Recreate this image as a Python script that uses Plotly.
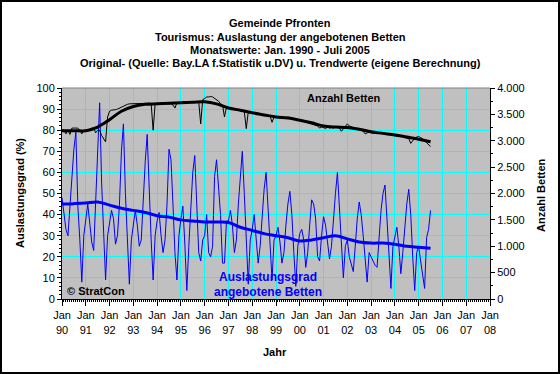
import plotly.graph_objects as go

# ---------------- data ----------------
years = list(range(1990, 2006))

# Auslastungsgrad (%) - monthly values, Jan 1990 .. Jul 2005
occ_1990 = [48, 39, 33, 30, 43, 58, 71, 79, 44, 28, 8, 30]
occ_1991 = [38, 45, 36, 27, 23, 45, 73, 93, 55, 28, 9, 30]
occ_1992 = [36, 42, 38, 26, 30, 45, 70, 83, 50, 25, 7, 28]
occ_1993 = [36, 42, 35, 25, 28, 48, 65, 78, 50, 28, 9, 30]
occ_1994 = [37, 41, 30, 22, 28, 45, 71, 66, 45, 22, 9, 30]
occ_1995 = [38, 44, 26, 4, 25, 45, 60, 68, 48, 22, 18, 28]
occ_1996 = [30, 40, 22, 20, 25, 58, 66, 51, 40, 17, 17, 37]
occ_1997 = [37, 42, 35, 22, 28, 45, 60, 70, 50, 25, 7, 28]
occ_1998 = [33, 40, 30, 17, 25, 40, 52, 60, 42, 25, 9, 28]
occ_1999 = [30, 34, 27, 17, 22, 35, 45, 51, 40, 22, 6, 25]
occ_2000 = [31, 33, 28, 15, 22, 35, 47, 45, 38, 20, 18, 30]
occ_2001 = [39, 35, 28, 19, 25, 40, 50, 60, 45, 25, 10, 25]
occ_2002 = [28, 20, 17, 13, 25, 38, 46, 40, 30, 20, 8, 22]
occ_2003 = [20, 18, 16, 15, 30, 42, 50, 54, 38, 20, 5, 25]
occ_2004 = [30, 34, 25, 12, 22, 35, 45, 52, 40, 20, 4, 22]
occ_2005 = [25, 18, 12, 5, 29, 33, 42]
occ_by_year = [occ_1990, occ_1991, occ_1992, occ_1993, occ_1994, occ_1995,
               occ_1996, occ_1997, occ_1998, occ_1999, occ_2000, occ_2001,
               occ_2002, occ_2003, occ_2004, occ_2005]

# Anzahl Betten - monthly values
beds_1990 = [3200, 3200, 3130, 3200, 3120, 3240, 3240, 3240, 3240, 3200, 3130, 3200]
beds_1991 = [3200, 3200, 3220, 3240, 3240, 3150, 3200, 3200, 3100, 3050, 2980, 3450]
beds_1992 = [3560, 3580, 3580, 3590, 3600, 3620, 3640, 3660, 3680, 3690, 3700, 3700]
beds_1993 = [3700, 3700, 3710, 3700, 3700, 3700, 3700, 3710, 3720, 3700, 3200, 3700]
beds_1994 = [3700, 3710, 3720, 3720, 3700, 3700, 3700, 3700, 3680, 3620, 3720, 3720]
beds_1995 = [3730, 3740, 3740, 3740, 3740, 3750, 3750, 3750, 3740, 3740, 3320, 3780]
beds_1996 = [3800, 3830, 3830, 3840, 3830, 3800, 3780, 3750, 3700, 3680, 3450, 3640]
beds_1997 = [3620, 3600, 3600, 3590, 3580, 3600, 3570, 3560, 3550, 3230, 3550, 3540]
beds_1998 = [3530, 3520, 3510, 3500, 3500, 3490, 3480, 3490, 3480, 3470, 3350, 3450]
beds_1999 = [3450, 3460, 3430, 3460, 3440, 3430, 3450, 3440, 3420, 3420, 3400, 3400]
beds_2000 = [3400, 3390, 3380, 3360, 3340, 3330, 3320, 3300, 3300, 3280, 3240, 3260]
beds_2001 = [3250, 3230, 3260, 3240, 3250, 3240, 3270, 3260, 3240, 3180, 3230, 3270]
beds_2002 = [3320, 3280, 3260, 3250, 3240, 3230, 3220, 3200, 3180, 3130, 3150, 3160]
beds_2003 = [3150, 3140, 3150, 3130, 3150, 3160, 3150, 3140, 3140, 3130, 3120, 3110]
beds_2004 = [3100, 3090, 3080, 3080, 3090, 3060, 3050, 3040, 2950, 3000, 3050, 3070]
beds_2005 = [3080, 3060, 3040, 3000, 2960, 2920, 2890]
beds_by_year = [beds_1990, beds_1991, beds_1992, beds_1993, beds_1994, beds_1995,
                beds_1996, beds_1997, beds_1998, beds_1999, beds_2000, beds_2001,
                beds_2002, beds_2003, beds_2004, beds_2005]

# Trend values (eigene Berechnung), half-yearly (Jan / Jul)
trend_x = [1990.0, 1990.5, 1991.0, 1991.5, 1992.0, 1992.5, 1993.0, 1993.5,
           1994.0, 1994.5, 1995.0, 1995.5, 1996.0, 1996.5, 1997.0, 1997.5,
           1998.0, 1998.5, 1999.0, 1999.5, 2000.0, 2000.5, 2001.0, 2001.5,
           2002.0, 2002.5, 2003.0, 2003.5, 2004.0, 2004.5, 2005.0, 2005.5]
occ_trend = [45, 45.2, 45.5, 46, 44.5, 43, 42, 41,
             39.5, 38.8, 37.5, 37, 36.5, 36.5, 36.3, 34,
             32.5, 31, 30, 29, 27.5, 28, 29, 30,
             28.5, 27, 26.5, 26.5, 26, 25, 24.5, 24]
beds_trend = [3190, 3190, 3190, 3260, 3400, 3560, 3650, 3690,
              3700, 3710, 3720, 3730, 3740, 3700, 3620, 3580,
              3530, 3490, 3450, 3430, 3390, 3340, 3280, 3260,
              3250, 3220, 3170, 3140, 3110, 3070, 3030, 2980]

tick_years = list(range(1990, 2009))
tick_labels = ["Jan<br>%02d" % (y % 100) for y in tick_years]

# ---------------- build series ----------------
mx, occ, beds = [], [], []
for y, ov, bv in zip(years, occ_by_year, beds_by_year):
    for m, (o, b) in enumerate(zip(ov, bv)):
        mx.append(y + m / 12.0)
        occ.append(o)
        beds.append(b)

BLUE = "#0000FF"
CYAN = "#00FFFF"
FONT = "Liberation Sans, Arial, sans-serif"

fig = go.Figure()
fig.add_trace(go.Scatter(x=mx, y=occ, mode="lines",
                         line=dict(color=BLUE, width=1), yaxis="y"))
fig.add_trace(go.Scatter(x=trend_x, y=occ_trend, mode="lines",
                         line=dict(color=BLUE, width=3, shape="spline"), yaxis="y"))
fig.add_trace(go.Scatter(x=mx, y=beds, mode="lines",
                         line=dict(color="black", width=1), yaxis="y2"))
fig.add_trace(go.Scatter(x=trend_x, y=beds_trend, mode="lines",
                         line=dict(color="black", width=3, shape="spline"), yaxis="y2"))

L, R, T, B = 62, 70, 88, 75
W, H = 560, 374
pw, ph = W - L - R, H - T - B

def px(xp):
    return (xp - L) / pw

def py(yp):
    return (H - B - yp) / ph

fig.update_layout(
    width=W, height=H,
    margin=dict(l=L, r=R, t=T, b=B, pad=0),
    paper_bgcolor="white", plot_bgcolor="#C0C0C0",
    separators=",.",
    showlegend=False,
    font=dict(family=FONT, size=11, color="black"),
    xaxis=dict(range=[1990, 2008], tickvals=tick_years, ticktext=tick_labels,
               showgrid=True, gridcolor=CYAN, gridwidth=1,
               showline=True, linecolor="black", linewidth=1,
               ticks="outside", ticklen=6, tickcolor="black",
               minor=dict(dtick=1/12, tick0=1990, ticklen=2, ticks="outside",
                          tickcolor="black", showgrid=False),
               zeroline=False, tickfont=dict(size=11)),
    yaxis=dict(range=[0, 100], dtick=10, showgrid=True, gridcolor=CYAN, gridwidth=1,
               showline=True, linecolor="black", linewidth=1,
               ticks="outside", ticklen=4, tickcolor="black",
               minor=dict(dtick=2, ticklen=2, ticks="outside", tickcolor="black",
                          showgrid=False),
               zeroline=False, tickfont=dict(size=11)),
    yaxis2=dict(range=[0, 4000], dtick=500, overlaying="y", side="right",
                showgrid=False, showline=True, linecolor="black", linewidth=1,
                ticks="outside", ticklen=4, tickcolor="black", tickformat=",d",
                minor=dict(dtick=250, ticklen=2, ticks="outside", tickcolor="black",
                           showgrid=False),
                zeroline=False, tickfont=dict(size=11)),
)

# plot-area top border and outer frame
fig.add_shape(type="line", xref="paper", yref="paper", x0=0, x1=1, y0=1, y1=1,
              line=dict(color="#808080", width=1))
fig.add_shape(type="rect", xref="paper", yref="paper",
              x0=px(1), x1=px(W - 1), y0=py(H - 1), y1=py(1),
              line=dict(color="black", width=2))

titles = ["Gemeinde Pfronten",
          "Tourismus: Auslastung der angebotenen Betten",
          "Monatswerte: Jan. 1990 - Juli 2005",
          "Original- (Quelle: Bay.LA f.Statistik u.DV) u. Trendwerte (eigene Berechnung)"]
for t, yp in zip(titles, [22.7, 36.7, 50.0, 63.3]):
    fig.add_annotation(text="<b>%s</b>" % t, xref="paper", yref="paper",
                       x=px(280), y=py(yp), xanchor="center", yanchor="middle",
                       showarrow=False, font=dict(size=11, family=FONT))

ann = [
    dict(text="<b>Jahr</b>", x=px(275), y=py(352), color="black", angle=0, xa="center", s=11),
    dict(text="<b>Auslastungsgrad (%)</b>", x=px(20), y=py(193), color="black", angle=-90, xa="center", s=11),
    dict(text="<b>Anzahl Betten</b>", x=px(541), y=py(195), color="black", angle=-90, xa="center", s=11),
    dict(text="<b>Anzahl Betten</b>", x=px(343.5), y=py(98), color="black", angle=0, xa="center", s=11),
    dict(text="<b>Auslastungsgrad</b>", x=px(268), y=py(277), color=BLUE, angle=0, xa="center", s=12),
    dict(text="<b>angebotene Betten</b>", x=px(268), y=py(291.5), color=BLUE, angle=0, xa="center", s=12),
    dict(text="<b>© StratCon</b>", x=px(65), y=py(291), color="black", angle=0, xa="left", s=11),
]
for a in ann:
    fig.add_annotation(text=a["text"], xref="paper", yref="paper", x=a["x"], y=a["y"],
                       xanchor=a["xa"], yanchor="middle", textangle=a["angle"],
                       showarrow=False, font=dict(size=a["s"], family=FONT, color=a["color"]))

fig.write_html("out.html",
               config={"displayModeBar": False},
               post_script="document.body.style.margin='0';document.body.style.overflow='hidden';")
